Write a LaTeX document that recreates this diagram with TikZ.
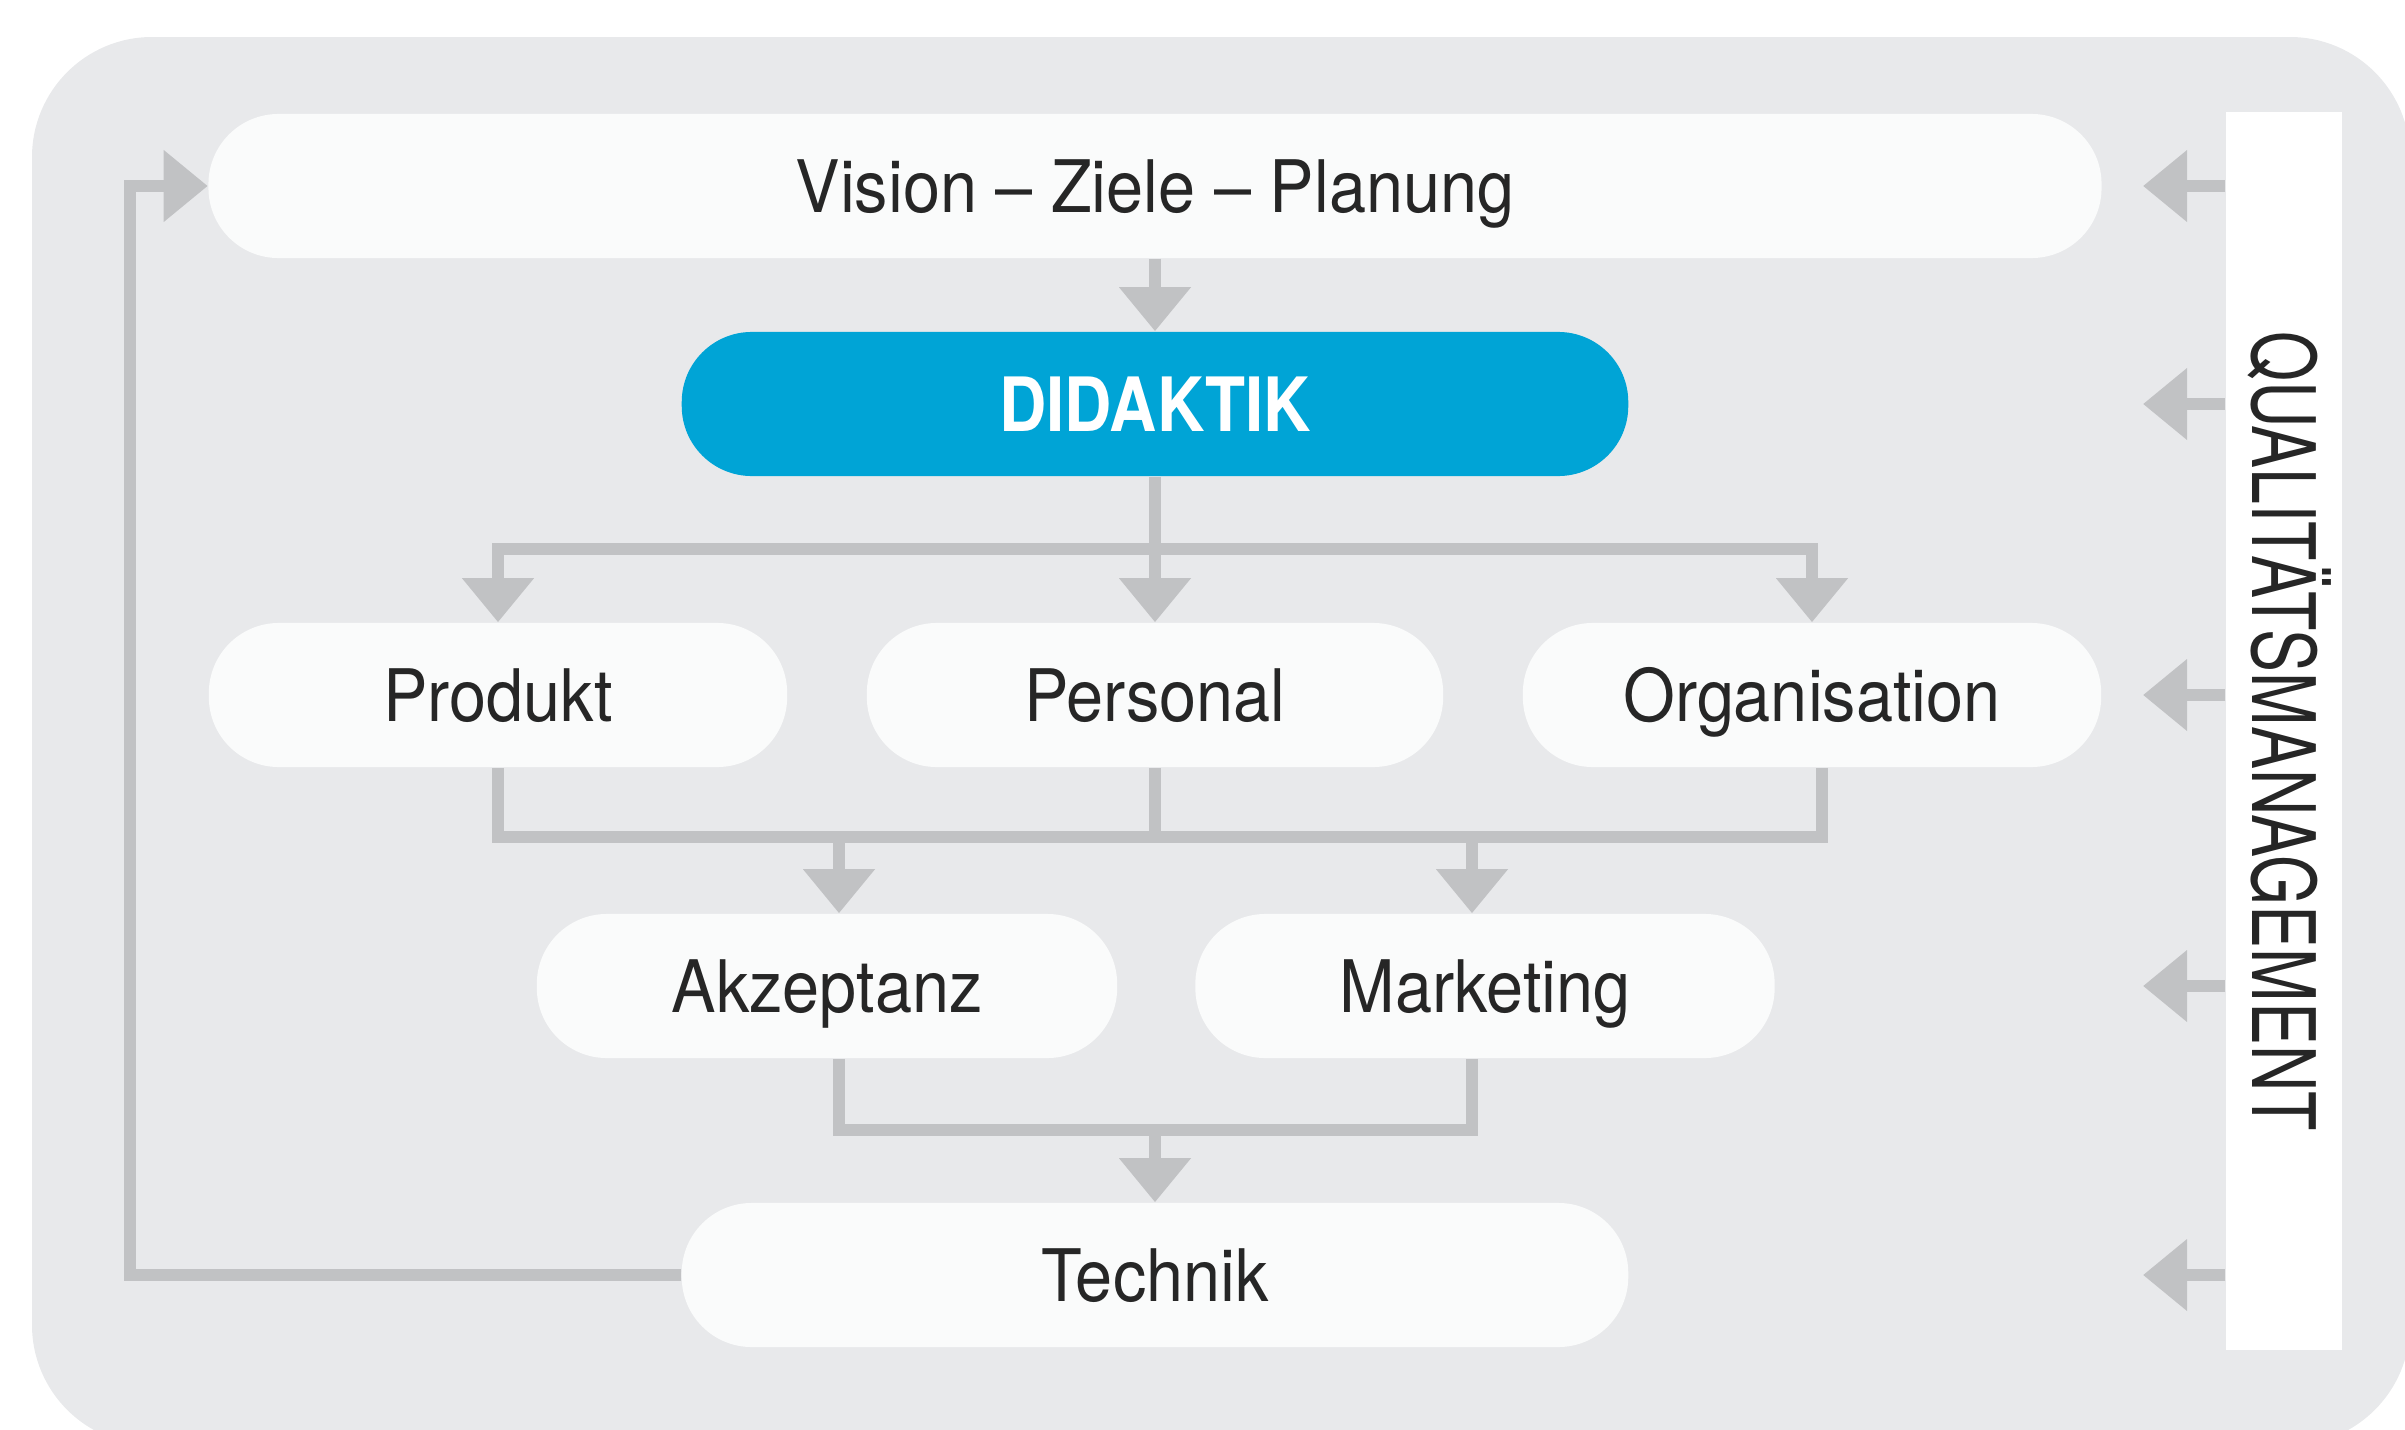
\documentclass[tikz,border=0pt]{standalone}
\usepackage{fontspec}
\setmainfont{TeX Gyre Heros}
\newfontfamily\boxfont[FakeStretch=0.92]{TeX Gyre Heros}
\newfontfamily\keyfont[FakeStretch=0.875]{TeX Gyre Heros}
\newfontfamily\barfont[FakeStretch=0.735]{TeX Gyre Heros}
\usetikzlibrary{arrows.meta}
\definecolor{panel}{HTML}{E8E9EB}
\definecolor{boxfill}{HTML}{FAFBFB}
\definecolor{linegray}{HTML}{C1C2C4}
\definecolor{didblue}{HTML}{00A4D6}
\definecolor{ink}{HTML}{262626}

\begin{document}
\begin{tikzpicture}[x=0.01cm,y=-0.01cm,
  pill/.style={fill=boxfill, rounded corners=0.7cm, minimum height=1.44cm,
    text height=0.52cm, text depth=0pt, inner sep=0pt, text=ink,
    font=\boxfont\fontsize{20.6}{24}\selectfont},
  conn/.style={draw=linegray, line width=0.12cm},
  arr/.style={conn, -{Triangle[length=0.44cm,width=0.69cm]}},
]
% canvas and rounded grey panel
\useasboundingbox (0,0) rectangle (2405,1430);
\begin{scope}
  \clip (0,0) rectangle (2405,1430);
  \fill[panel, rounded corners=1.2cm] (32,37) rectangle (2410,1445);
\end{scope}

% boxes
\node[pill, minimum width=18.92cm] (vis) at (1155,186) {Vision – Ziele – Planung};
\node[pill, fill=didblue, minimum width=9.46cm, text=white, text height=0.54cm,
  font=\keyfont\bfseries\fontsize{21.3}{25}\selectfont] (did) at (1155,404) {DIDAKTIK};
\node[pill, minimum width=5.78cm] (prod) at (498,695) {Produkt};
\node[pill, minimum width=5.76cm] (pers) at (1155,695) {Personal};
\node[pill, minimum width=5.78cm] (orga) at (1812,695) {Organisation};
\node[pill, minimum width=5.80cm] (akz) at (827,986) {Akzeptanz};
\node[pill, minimum width=5.79cm] (mark) at (1485,986) {Marketing};
\node[pill, minimum width=9.46cm] (tech) at (1155,1275) {Technik};

% quality management bar
\node[fill=white, minimum width=1.16cm, minimum height=12.38cm, inner sep=0pt] (qm) at (2284,731) {};
\node[rotate=-90, inner sep=0pt, text=ink, text height=0.63cm, text depth=0pt,
  font=\barfont\fontsize{24.9}{28}\selectfont] (qmlabel) at (qm.center) {QUALITÄTSMANAGEMENT};

% vision to didaktik
\draw[arr] (vis.south) -- (did.north);

% didaktik splits into three areas
\coordinate (s1) at (1155,549);
\draw[conn] (did.south) -- (s1);
\draw[arr] (s1) -| (prod.north);
\draw[arr] (s1) -- (pers.north);
\draw[arr] (s1) -| (orga.north);

% three areas merge into acceptance and marketing
\coordinate (s2) at (1155,837);
\coordinate (a2) at (839,837);
\coordinate (b2) at (1472,837);
\coordinate (o2) at (1822,837);
\draw[conn] (prod.south) |- (s2);
\draw[conn] (pers.south) -- (s2);
\draw[conn] (orga.south -| o2) |- (s2);
\draw[arr] (a2) -- (a2 |- akz.north);
\draw[arr] (b2) -- (b2 |- mark.north);

% acceptance and marketing merge into technology
\coordinate (s3) at (1155,1130);
\draw[conn] (akz.south -| a2) |- (s3);
\draw[conn] (mark.south -| b2) |- (s3);
\draw[arr] (s3) -- (tech.north);

% feedback loop back to the top
\coordinate (fb) at (130,186);
\draw[arr] (tech.west) -| (fb) -- (vis.west);

% quality management acts on every level
\coordinate (qtip) at (2143,0);
\foreach \n in {vis,did,pers,akz,tech}
  \draw[arr] (qm.west |- \n) -- (qtip |- \n);
\end{tikzpicture}
\end{document}
